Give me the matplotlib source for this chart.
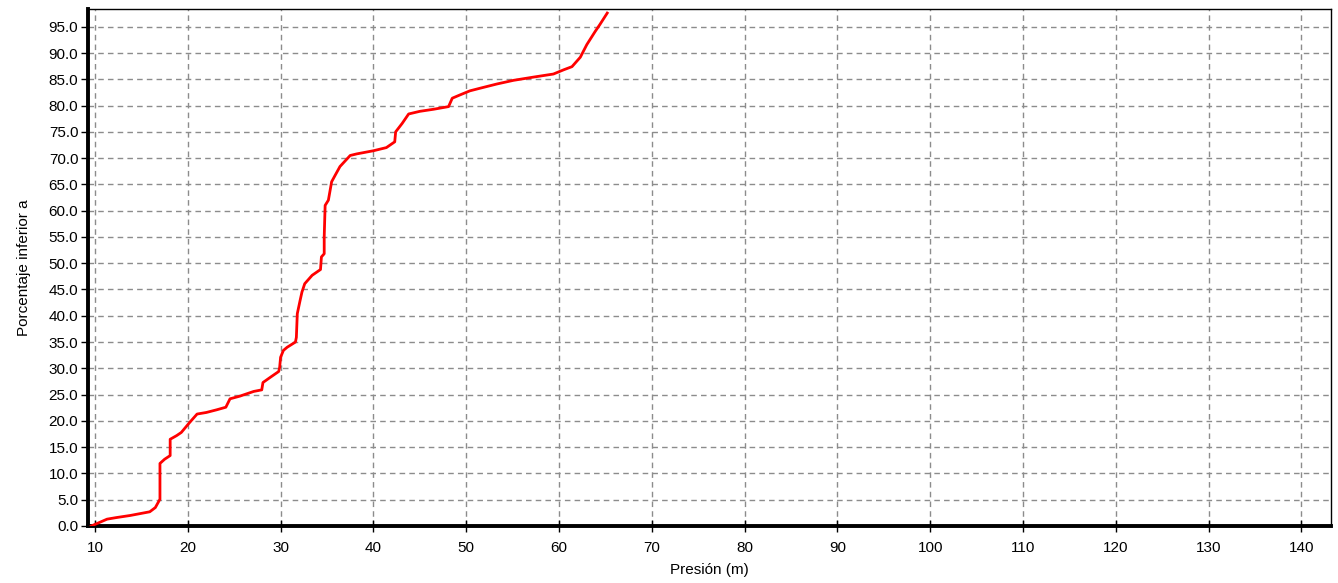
import numpy as np
import matplotlib
matplotlib.use("Agg")
import matplotlib.pyplot as plt

plt.rcParams['font.family'] = ['Liberation Sans Narrow', 'Liberation Sans', 'DejaVu Sans']

# curva de distribucion acumulada de presiones
presion = [9.6, 10.0, 11.3, 12.3, 13.8, 15.9, 16.5, 17.0, 17.0, 17.5, 18.1, 18.1,
           18.8, 19.3, 20.2, 21.0, 22.0, 23.1, 24.1, 24.55, 25.6, 27.1, 27.97, 28.1,
           28.9, 29.8, 29.9, 30.0, 30.3, 30.7, 31.6, 31.7, 31.8, 32.1, 32.3, 32.6,
           33.4, 34.3, 34.4, 34.7, 34.7, 34.8, 35.15, 35.5, 35.9, 36.4, 37.5, 38.2,
           40.0, 41.4, 42.3, 42.4, 43.1, 43.8, 45.0, 46.5, 48.1, 48.5, 49.3, 50.4,
           51.5, 53.3, 55.1, 57.2, 59.4, 60.5, 61.4, 62.3, 63.0, 63.9, 64.4, 65.2]
porcentaje = [0.0, 0.3, 1.3, 1.6, 2.0, 2.7, 3.5, 5.1, 11.9, 12.7, 13.4, 16.5,
              17.2, 17.8, 19.7, 21.3, 21.6, 22.1, 22.6, 24.2, 24.7, 25.6, 25.9, 27.3,
              28.3, 29.4, 30.2, 32.1, 33.4, 34.0, 35.0, 35.9, 40.4, 42.9, 44.5, 46.1,
              47.7, 48.8, 51.2, 51.8, 55.0, 61.0, 62.0, 65.5, 66.8, 68.4, 70.5, 70.8,
              71.4, 72.0, 73.1, 75.0, 76.6, 78.4, 78.9, 79.3, 79.8, 81.4, 82.0, 82.8,
              83.3, 84.1, 84.8, 85.4, 86.0, 86.8, 87.4, 89.2, 91.6, 94.1, 95.4, 97.6]

xticks = np.arange(10, 141, 10)
yticks = np.arange(0, 96, 5)

fig = plt.figure(figsize=(13.38, 5.83), dpi=100)
ax = fig.add_axes([0.0658, 0.0978, 0.929, 0.887])

ax.plot(presion, porcentaje, color='#ff0000', lw=2.0, zorder=3)

ax.set_xlim(9.25, 143.2)
ax.set_ylim(0, 98.4)
ax.set_xticks(xticks)
ax.set_yticks(yticks)
ax.set_yticklabels(['%.1f' % v for v in yticks])
ax.grid(True, color='#8c8c8c', linestyle=(0, (4, 3)), linewidth=1.0)

ax.tick_params(labelsize=11, length=5, width=1, colors='#000000', pad=2)
ax.tick_params(axis='x', direction='inout', length=9, pad=6)

for side in ['top', 'right']:
    ax.spines[side].set_linewidth(1.0)
ax.spines['left'].set_linewidth(2.8)
ax.spines['bottom'].set_linewidth(2.8)

ax.set_xlabel('Presión (m)', fontsize=11, labelpad=6)
ax.set_ylabel('Porcentaje inferior a', fontsize=11, labelpad=13)

fig.savefig('out.png', dpi=100)
